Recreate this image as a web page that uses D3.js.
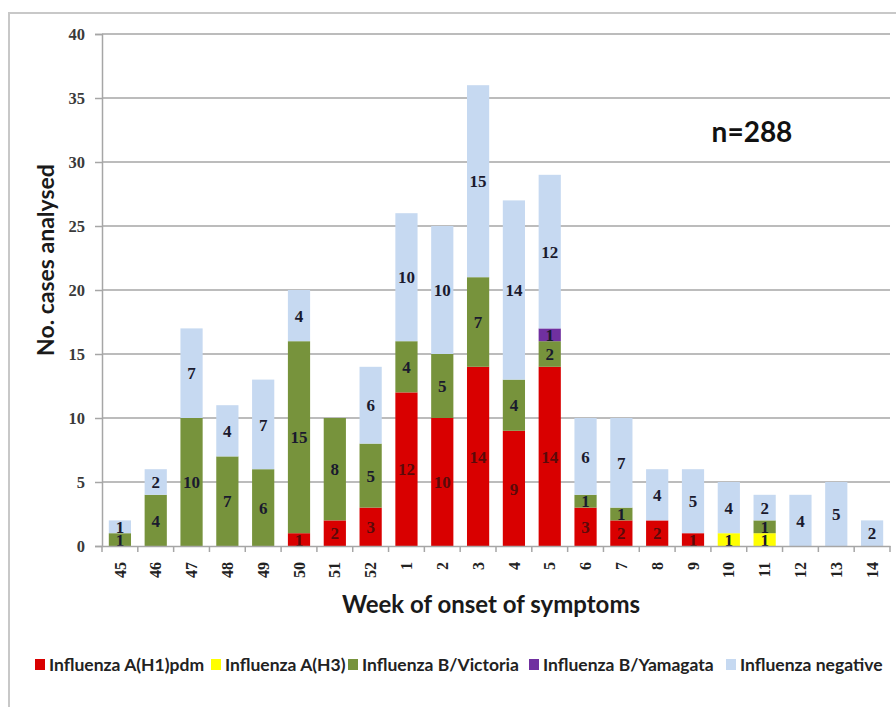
<!DOCTYPE html>
<html>
<head>
<meta charset="utf-8">
<script src="https://cdn.jsdelivr.net/npm/d3@7"></script>
<style>
  html, body { margin: 0; padding: 0; background: #fff; }
  svg { display: block; }
</style>
</head>
<body>
<svg id="chart" width="896" height="707"></svg>
<script>
const weeks = ["45","46","47","48","49","50","51","52","1","2","3","4","5","6","7","8","9","10","11","12","13","14"];
const h1pdm     = [0,0,0,0,0,1,2,3,12,10,14,9,14,3,2,2,1,0,0,0,0,0];
const h3        = [0,0,0,0,0,0,0,0,0,0,0,0,0,0,0,0,0,1,1,0,0,0];
const bVictoria = [1,4,10,7,6,15,8,5,4,5,7,4,2,1,1,0,0,0,1,0,0,0];
const bYamagata = [0,0,0,0,0,0,0,0,0,0,0,0,1,0,0,0,0,0,0,0,0,0];
const negative  = [1,2,7,4,7,4,0,6,10,10,15,14,12,6,7,4,5,4,2,4,5,2];
const seriesNames = ["Influenza A(H1)pdm","Influenza A(H3)","Influenza B/Victoria","Influenza B/Yamagata","Influenza negative"];
const yTicks = [0,5,10,15,20,25,30,35,40];
const totalLabel = "n=288";

const colors = ["#D90000","#FFFF00","#77933C","#7030A0","#C6D9F1"];
const labelColors = ["#5a0a0a","#1a1a2e","#1a1a2e","#1a1a2e","#1a1a2e"];
const seriesValues = [h1pdm, h3, bVictoria, bYamagata, negative];

const svg = d3.select("#chart");
const plot = {left: 102, right: 890, top: 34, bottom: 546};

// outer frame
svg.append("rect").attr("x", 9).attr("y", 13).attr("width", 900).attr("height", 720)
  .attr("fill", "none").attr("stroke", "#C8C8C8").attr("stroke-width", 2);

const x = d3.scaleBand().domain(weeks).range([plot.left, plot.right]).paddingInner(0.38).paddingOuter(0.19);
const y = d3.scaleLinear().domain([0, 40]).range([plot.bottom, plot.top]);

// gridlines
svg.append("g").selectAll("line").data(yTicks.filter(d => d > 0)).join("line")
  .attr("x1", plot.left).attr("x2", plot.right)
  .attr("y1", d => y(d)).attr("y2", d => y(d))
  .attr("stroke", "#A6A6A6").attr("stroke-width", 1.5);

// stacked data
const table = weeks.map((w, i) => {
  const o = {week: w};
  seriesNames.forEach((s, k) => o[s] = seriesValues[k][i]);
  return o;
});
const stack = d3.stack().keys(seriesNames)(table);

const layers = svg.append("g").selectAll("g").data(stack).join("g")
  .attr("fill", (d, k) => colors[k]);
layers.selectAll("rect").data(d => d).join("rect")
  .attr("x", d => x(d.data.week))
  .attr("width", x.bandwidth())
  .attr("y", d => y(d[1]))
  .attr("height", d => y(d[0]) - y(d[1]));

// labels
const lab = svg.append("g");
stack.forEach((layer, k) => {
  layer.forEach(d => {
    const v = d[1] - d[0];
    if (v <= 0) return;
    lab.append("text")
      .attr("x", x(d.data.week) + x.bandwidth() / 2)
      .attr("y", (y(d[0]) + y(d[1])) / 2)
      .attr("dy", "0.36em")
      .attr("text-anchor", "middle")
      .attr("font-family", "'Liberation Serif', serif")
      .attr("font-weight", "bold")
      .attr("font-size", 17)
      .attr("fill", labelColors[k])
      .text(v);
  });
});

// y axis
const yAxis = svg.append("g").attr("transform", `translate(${plot.left},0)`)
  .call(d3.axisLeft(y).tickValues(yTicks).tickSize(7).tickPadding(10));
yAxis.select(".domain").attr("stroke", "#A6A6A6").attr("stroke-width", 1.5);
yAxis.selectAll(".tick line").attr("stroke", "#A6A6A6").attr("stroke-width", 1.5);
yAxis.selectAll("text").attr("font-family", "'Liberation Serif', serif")
  .attr("font-weight", "bold").attr("font-size", 16.5).attr("fill", "#3a3a3a");

// x axis
const xAxis = svg.append("g").attr("transform", `translate(0,${plot.bottom})`)
  .call(d3.axisBottom(x).tickSize(0).tickPadding(0));
xAxis.select(".domain").attr("stroke", "#A6A6A6").attr("stroke-width", 1.5);
xAxis.selectAll("text")
  .attr("font-family", "'Liberation Serif', serif")
  .attr("font-weight", "bold").attr("font-size", 16).attr("fill", "#222")
  .attr("text-anchor", "end")
  .attr("transform", "translate(0,16) rotate(-90)")
  .attr("dy", "0.35em").attr("y", 0).attr("x", 0);
// category boundary tick marks
svg.append("g").selectAll("line").data(d3.range(weeks.length + 1)).join("line")
  .attr("x1", i => plot.left + i * x.step())
  .attr("x2", i => plot.left + i * x.step())
  .attr("y1", plot.bottom).attr("y2", plot.bottom + 6)
  .attr("stroke", "#A6A6A6").attr("stroke-width", 1.5);

// axis titles
svg.append("text").attr("x", 491).attr("y", 613).attr("text-anchor", "middle")
  .attr("font-family", "Lato, sans-serif").attr("font-weight", "bold").attr("font-size", 24)
  .attr("fill", "#1a1a1a").text("Week of onset of symptoms");
svg.append("text").attr("transform", "translate(54,260) rotate(-90)").attr("text-anchor", "middle")
  .attr("font-family", "Lato, sans-serif").attr("font-weight", "bold").attr("font-size", 23)
  .attr("fill", "#1a1a1a").text("No. cases analysed");

// n label
svg.append("text").attr("x", 752).attr("y", 142).attr("text-anchor", "middle")
  .attr("font-family", "Lato, sans-serif").attr("font-weight", "bold").attr("font-size", 28)
  .attr("fill", "#111").text(totalLabel);

// legend
const legX = [35, 211, 348, 529, 726];
const leg = svg.append("g").selectAll("g").data(seriesNames).join("g")
  .attr("transform", (d, i) => `translate(${legX[i]},665)`);
leg.append("rect").attr("x", 0).attr("y", -6).attr("width", 10).attr("height", 11)
  .attr("fill", (d, i) => colors[i]);
leg.append("text").attr("x", 14).attr("y", 0).attr("dy", "0.35em")
  .attr("font-family", "Lato, sans-serif").attr("font-weight", "bold").attr("font-size", 17.5)
  .attr("fill", "#222").text(d => d);
</script>
</body>
</html>
